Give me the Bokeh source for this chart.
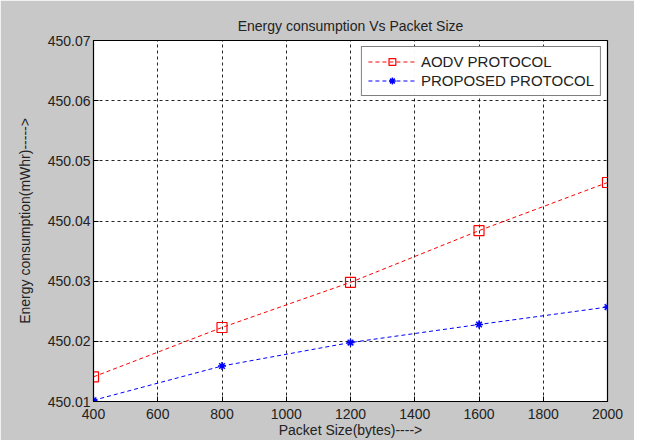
from bokeh.plotting import figure
from bokeh.models import FixedTicker, PrintfTickFormatter, Range1d, Legend, LegendItem
from bokeh.embed import file_html
from bokeh.resources import INLINE

packet_size = [400, 800, 1200, 1600, 2000]
aodv = [450.0141, 450.0223, 450.0298, 450.0384, 450.0464]
proposed = [450.0102, 450.0159, 450.0198, 450.0228, 450.0257]
x_ticks = [400, 600, 800, 1000, 1200, 1400, 1600, 1800, 2000]
y_ticks = [450.01, 450.02, 450.03, 450.04, 450.05, 450.06, 450.07]

FONT = "Liberation Sans"
BG = "#c8c8c8"

p = figure(width=634, height=440, output_backend="svg", toolbar_location=None,
           x_range=Range1d(400, 2000), y_range=Range1d(450.01, 450.07),
           title="Energy consumption Vs Packet Size",
           min_border_left=93, min_border_right=27, min_border_top=40, min_border_bottom=37)
p.border_fill_color = BG
p.background_fill_color = "white"
p.outline_line_color = "black"
p.outline_line_width = 1.2

p.title.text_font = FONT
p.title.text_font_size = "14px"
p.title.text_font_style = "normal"
p.title.align = "center"
p.title.text_color = "#222222"
p.title.standoff = 13

p.xaxis.ticker = FixedTicker(ticks=x_ticks)
p.yaxis.ticker = FixedTicker(ticks=y_ticks)
p.yaxis.formatter = PrintfTickFormatter(format="%.2f")
for ax in (p.xaxis, p.yaxis):
    ax.major_tick_in = 5
    ax.major_tick_out = 0
    ax.minor_tick_in = 0
    ax.minor_tick_out = 0
    ax.axis_line_color = "black"
    ax.major_label_text_font = FONT
    ax.major_label_text_font_size = "14px"
    ax.major_label_text_color = "#222222"
    ax.axis_label_text_font = FONT
    ax.axis_label_text_font_size = "14px"
    ax.axis_label_text_font_style = "normal"
    ax.axis_label_text_color = "#222222"
p.xaxis.axis_label = "Packet Size(bytes)---->"
p.yaxis.axis_label = "Energy consumption(mWhr)----->"
p.xaxis.axis_label_standoff = 0
p.yaxis.axis_label_standoff = 12
p.xaxis.major_label_standoff = 7
p.yaxis.major_label_standoff = 3

p.grid.grid_line_color = "black"
p.grid.grid_line_dash = "3 3"
p.grid.grid_line_alpha = 0.85

r1 = p.line(packet_size, aodv, line_color="red", line_dash="4 3", line_width=1)
s1 = p.scatter(packet_size, aodv, marker="square", size=10, fill_color=None,
               line_color="red", line_width=1.2)
r2 = p.line(packet_size, proposed, line_color="blue", line_dash="4 3", line_width=1)
s2 = p.scatter(packet_size, proposed, marker="asterisk", size=8,
               line_color="blue", line_width=1.5)

legend = Legend(items=[LegendItem(label="AODV PROTOCOL", renderers=[r1, s1]),
                       LegendItem(label="PROPOSED PROTOCOL", renderers=[r2, s2])],
                location="top_right")
legend.label_text_font = FONT
legend.label_text_font_size = "15px"
legend.label_text_color = "#222222"
legend.border_line_color = "black"
legend.border_line_width = 1
legend.glyph_width = 48
legend.spacing = 2
legend.padding = 6
legend.margin = 6
legend.label_height = 17
legend.glyph_height = 17
p.add_layout(legend)

open("out.html", "w").write(file_html(p, INLINE))
